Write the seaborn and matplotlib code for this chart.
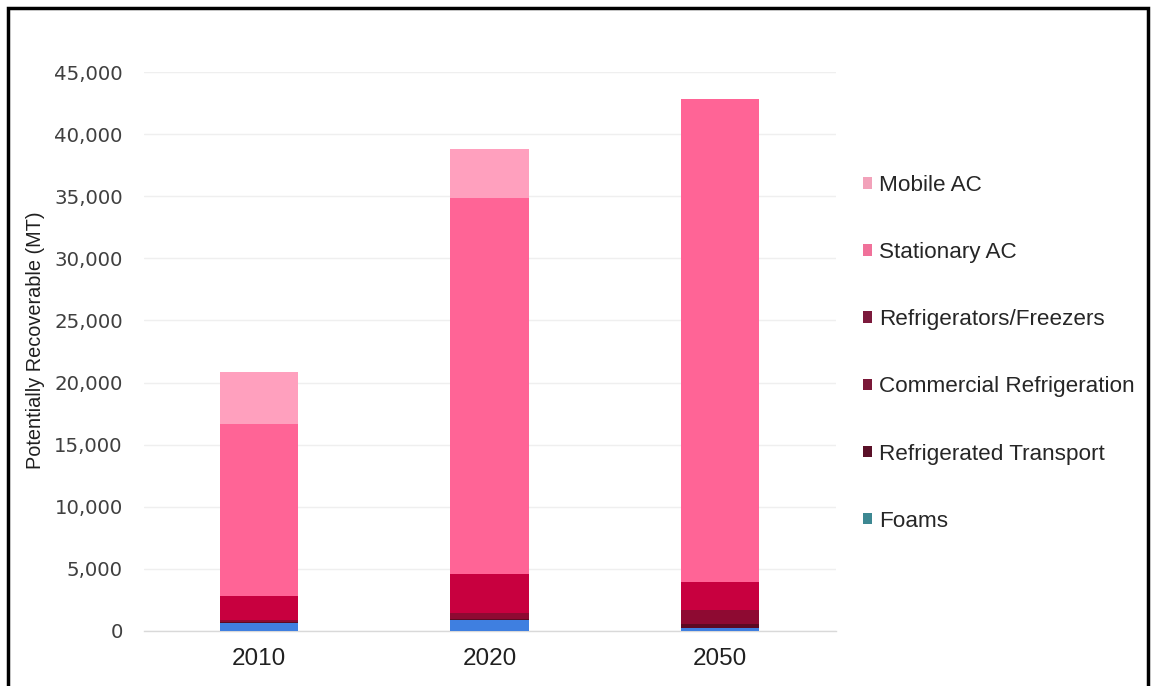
import numpy as np
import pandas as pd
import matplotlib
matplotlib.use("Agg")
import matplotlib.pyplot as plt
from matplotlib.patches import Patch, Rectangle
import seaborn as sns

# ---- data (MT) ----
years = ["2010", "2020", "2050"]
series = ["Foams", "Refrigerated Transport", "Commercial Refrigeration",
          "Refrigerators/Freezers", "Stationary AC", "Mobile AC"]
foams = [670, 860, 250]
refrigerated_transport = [50, 100, 300]
commercial_refrigeration = [160, 490, 1150]
refrigerators_freezers = [1940, 3150, 2270]
stationary_ac = [13880, 30260, 38860]
mobile_ac = [4180, 3940, 0]

ticks = [0, 5000, 10000, 15000, 20000, 25000, 30000, 35000, 40000, 45000]

bar_colors = {
    "Foams": "#3f7fe0",
    "Refrigerated Transport": "#5c0a22",
    "Commercial Refrigeration": "#8e0a32",
    "Refrigerators/Freezers": "#c8003f",
    "Stationary AC": "#ff6496",
    "Mobile AC": "#ffa0be",
}
legend_colors = {
    "Mobile AC": "#f2a2ba",
    "Stationary AC": "#f0719a",
    "Refrigerators/Freezers": "#7c1a3c",
    "Commercial Refrigeration": "#7a1838",
    "Refrigerated Transport": "#5a1028",
    "Foams": "#3d8892",
}

values = {
    "Foams": foams,
    "Refrigerated Transport": refrigerated_transport,
    "Commercial Refrigeration": commercial_refrigeration,
    "Refrigerators/Freezers": refrigerators_freezers,
    "Stationary AC": stationary_ac,
    "Mobile AC": mobile_ac,
}

df = pd.DataFrame(values, index=years)
cum = df[series].cumsum(axis=1)
cum["Year"] = years

sns.set_theme(style="white")
plt.rcParams["font.family"] = ["Liberation Sans", "DejaVu Sans"]

fig = plt.figure(figsize=(11.51, 6.86), dpi=100)
ax = fig.add_axes([0.1247, 0.0802, 0.6012, 0.8148])

for s in reversed(series):
    sns.barplot(data=cum, x="Year", y=s, color=bar_colors[s], width=0.34,
                ax=ax, saturation=1, linewidth=0, zorder=3)

ax.set_ylim(0, 45000)
ax.set_xlim(-0.5, 2.5)
ax.set_yticks(ticks)
ax.set_yticklabels([f"{t:,}" for t in ticks], fontsize=14.2, color="#404040",
                   family="DejaVu Sans")
ax.tick_params(axis="y", length=0, pad=15)
ax.tick_params(axis="x", length=0, pad=12, labelsize=17.5, labelcolor="#202020")
ax.set_xlabel("")
ax.set_ylabel("Potentially Recoverable (MT)", fontsize=14.3, color="#202020")
ax.yaxis.set_label_coords(-0.142, 0.52)
ax.yaxis.grid(True, color="#efefef", linewidth=1, zorder=0)
for sp in ["top", "right", "left"]:
    ax.spines[sp].set_visible(False)
ax.spines["bottom"].set_color("#d9d9d9")
ax.spines["bottom"].set_linewidth(1)

handles = [Patch(facecolor=legend_colors[s], edgecolor="none", label=s)
           for s in reversed(series)]
fig.legend(handles=handles, loc="upper left", bbox_to_anchor=(0.742, 0.758),
           frameon=False, fontsize=16.2, labelspacing=2.05, handlelength=0.42,
           handleheight=0.42, handletextpad=0.3, borderaxespad=0)

# outer black frame
fig.patches.append(Rectangle((0.007, -0.01), 0.99, 0.999, transform=fig.transFigure,
                             fill=False, edgecolor="black", linewidth=2.5))

fig.savefig("out.png", dpi=100, facecolor="white")
